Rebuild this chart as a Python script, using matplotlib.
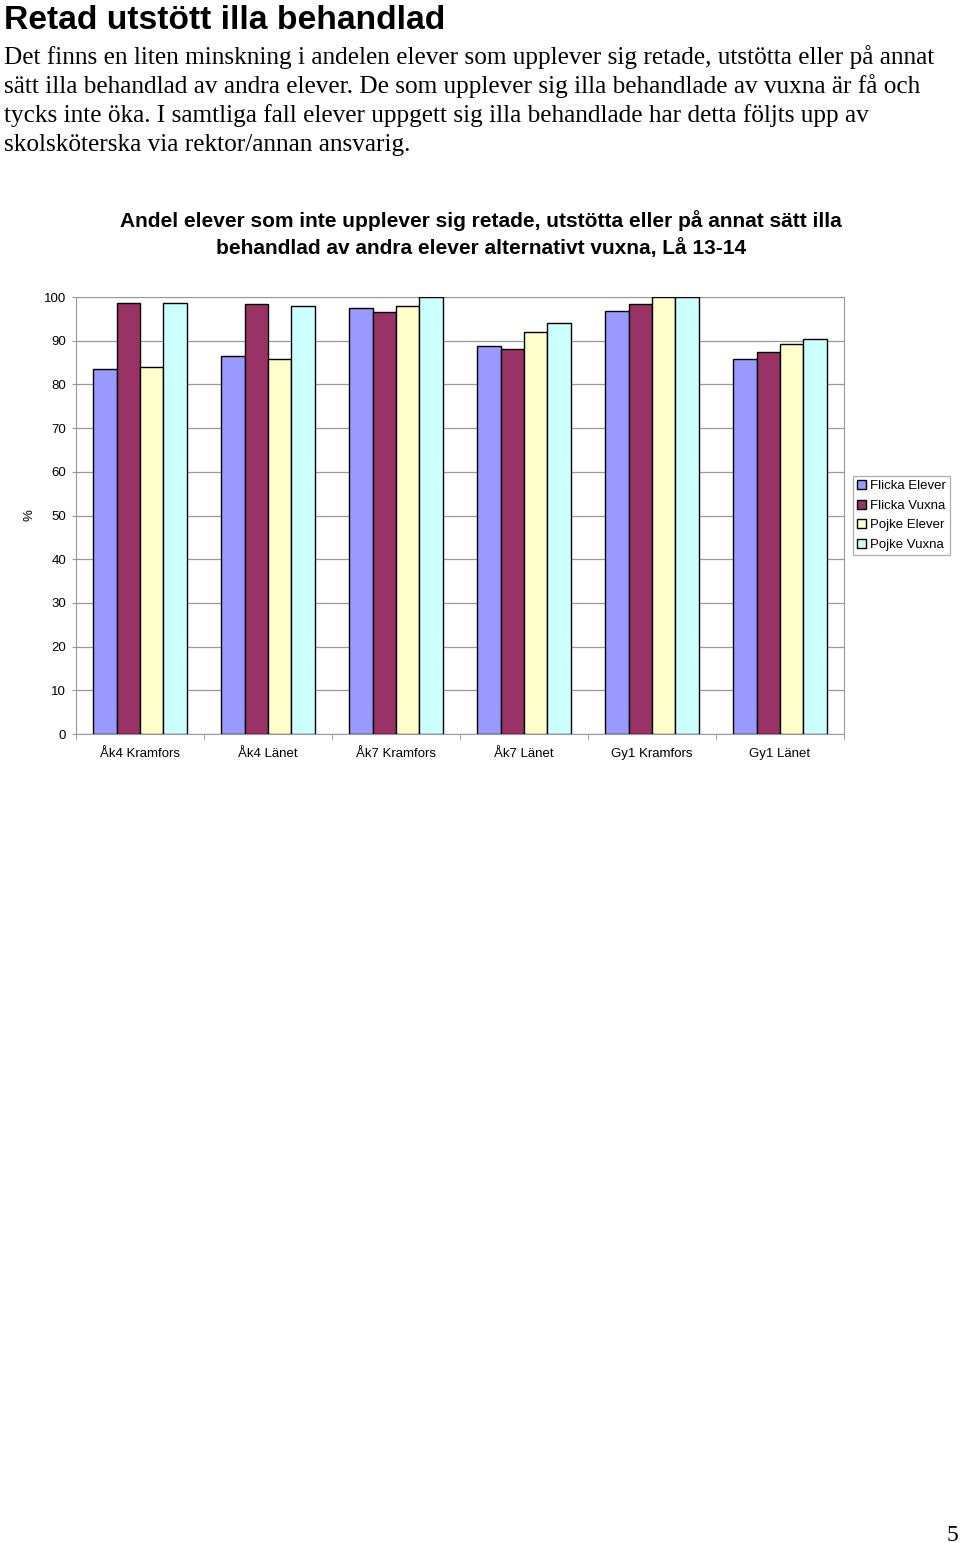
import numpy as np
import matplotlib.pyplot as plt

categories = ["Åk4 Kramfors", "Åk4 Länet", "Åk7 Kramfors", "Åk7 Länet", "Gy1 Kramfors", "Gy1 Länet"]
series_names = ["Flicka Elever", "Flicka Vuxna", "Pojke Elever", "Pojke Vuxna"]
flicka_elever = [83.5, 86.6, 97.4, 88.8, 96.8, 85.7]
flicka_vuxna = [98.7, 98.4, 96.6, 88.1, 98.4, 87.5]
pojke_elever = [83.9, 85.8, 98.0, 92.1, 100.0, 89.2]
pojke_vuxna = [98.7, 98.0, 100.0, 94.0, 100.0, 90.5]
colors = ["#9999FF", "#993366", "#FFFFCC", "#CCFFFF"]

W, H = 960, 1543
fig = plt.figure(figsize=(W / 100, H / 100), dpi=100)


def fx(px):
    return px / W


def fy(py):
    return 1 - py / H


# page text
fig.text(fx(4), fy(29), "Retad utstött illa behandlad", fontsize=24.2, fontweight="bold",
         family="Liberation Sans", va="baseline")
body = [
    "Det finns en liten minskning i andelen elever som upplever sig retade, utstötta eller på annat",
    "sätt illa behandlad av andra elever. De som upplever sig illa behandlade av vuxna är få och",
    "tycks inte öka. I samtliga fall elever uppgett sig illa behandlade har detta följts upp av",
    "skolsköterska via rektor/annan ansvarig.",
]
for i, line in enumerate(body):
    fig.text(fx(4), fy(64 + i * 29), line, fontsize=18.2, family="Liberation Serif", va="baseline")

fig.text(fx(481), fy(227), "Andel elever som inte upplever sig retade, utstötta eller på annat sätt illa",
         fontsize=15, fontweight="bold", family="Liberation Sans", ha="center", va="baseline")
fig.text(fx(481), fy(254), "behandlad av andra elever alternativt vuxna, Lå 13-14",
         fontsize=15, fontweight="bold", family="Liberation Sans", ha="center", va="baseline")

fig.text(fx(958), fy(1541), "5", fontsize=17, family="Liberation Serif", ha="right", va="baseline")

# chart
ax = fig.add_axes([fx(76), fy(734), fx(844) - fx(76), fy(297) - fy(734)])
x = np.arange(len(categories))
bw = 0.183
data = [flicka_elever, flicka_vuxna, pojke_elever, pojke_vuxna]
for k, (vals, name, c) in enumerate(zip(data, series_names, colors)):
    ax.bar(x + (k - 1.5) * bw, vals, bw, color=c, edgecolor="black", linewidth=1.0,
           label=name, zorder=3)

ax.set_xlim(-0.5, len(categories) - 0.5)
ax.set_ylim(0, 100)
ax.set_yticks(np.arange(0, 101, 10))
ax.yaxis.grid(True, color="#999999", linewidth=0.9, zorder=0)
ax.set_xticks(x)
ax.set_xticklabels(categories, fontsize=9.5, family="Liberation Sans")
ax.set_xticks(np.arange(-0.5, len(categories), 1), minor=True)
ax.tick_params(axis="x", which="major", length=0, pad=10)
ax.tick_params(axis="x", which="minor", length=4, color="#999999")
ax.tick_params(axis="y", length=3, color="#999999", labelsize=9.5, pad=4)
for lab in ax.get_yticklabels():
    lab.set_family("Liberation Sans")
for side in ["left", "right", "top", "bottom"]:
    ax.spines[side].set_color("#999999")
ax.set_ylabel("%", fontsize=9.5, family="Liberation Sans", labelpad=6)

leg = ax.legend(loc="center left", bbox_to_anchor=(fx(853 - 76) / (fx(844) - fx(76)), 0.5),
                prop={"family": "Liberation Sans", "size": 9.5},
                frameon=True, fancybox=False, edgecolor="#999999", handlelength=0.7,
                handleheight=0.7, handletextpad=0.3, borderpad=0.3, labelspacing=0.55,
                borderaxespad=0)
leg.get_frame().set_linewidth(0.9)

fig.savefig("out.png", dpi=100)
